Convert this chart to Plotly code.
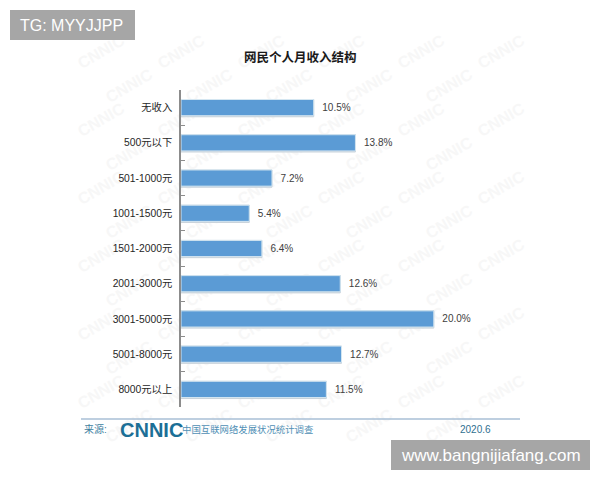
import plotly.graph_objects as go

categories = ["无收入", "500元以下", "501-1000元", "1001-1500元", "1501-2000元",
              "2001-3000元", "3001-5000元", "5001-8000元", "8000元以上"]
shares = [10.5, 13.8, 7.2, 5.4, 6.4, 12.6, 20.0, 12.7, 11.5]
labels = ["10.5%", "13.8%", "7.2%", "5.4%", "6.4%", "12.6%", "20.0%", "12.7%", "11.5%"]

W, H = 600, 480
CJK = "Liberation Sans, Noto Sans CJK SC, sans-serif"


def px(x):
    return x / W


def py(y):
    return 1 - y / H


def note(x, y, text, size, color, anchor="left", bold=False):
    fig.add_annotation(
        x=px(x), y=py(y), xref="paper", yref="paper", text=f"<b>{text}</b>" if bold else text,
        showarrow=False, xanchor=anchor, yanchor="middle",
        font=dict(family=CJK, size=size, color=color),
    )


fig = go.Figure()

# soft edge under each bar
fig.add_trace(go.Bar(
    y=categories, x=shares, orientation="h", width=0.49, offset=-0.23,
    marker=dict(color="#c8d2da", line=dict(color="#c8d2da", width=1)),
    hoverinfo="skip", showlegend=False,
))
fig.add_trace(go.Bar(
    y=categories, x=shares, orientation="h", width=0.46, offset=-0.23,
    marker=dict(color="#5b9bd5", line=dict(color="#d4e6f1", width=1)),
    text=labels, texttemplate="  %{text}", textposition="outside", cliponaxis=False,
    textfont=dict(family=CJK, size=10, color="#404040"),
    showlegend=False,
))

fig.update_layout(
    width=W, height=H, autosize=False,
    margin=dict(l=0, r=0, t=0, b=0),
    paper_bgcolor="white", plot_bgcolor="rgba(0,0,0,0)",
    barmode="overlay",
    xaxis=dict(domain=[px(181), px(497)], range=[0, 25], visible=False),
    yaxis=dict(
        domain=[py(407), py(90)], autorange="reversed",
        tickson="boundaries", ticks="inside", ticklen=4, tickcolor="#8c8c8c",
        showline=True, linecolor="#8c8c8c", linewidth=1.5, showgrid=False,
        ticklabelstandoff=5,
        tickfont=dict(family=CJK, size=10.3, color="#262626"),
    ),
)

# faint CNNIC watermark behind the chart
for row in range(12):
    for col in range(6):
        cx = 100 + col * 80 + (row % 2) * 28
        cy = 50 + row * 34
        if cx > 525:
            continue
        fig.add_shape(
            type="rect", xref="paper", yref="paper", layer="below",
            x0=px(cx - 25), x1=px(cx + 25), y0=py(cy + 15), y1=py(cy - 15),
            line=dict(width=0), fillcolor="rgba(0,0,0,0)",
            label=dict(text="<b>CNNIC</b>", textangle=-30, textposition="middle center",
                       font=dict(family="Liberation Sans", size=16, color="#f7f7f7")),
        )

# footer rule
fig.add_shape(type="line", xref="paper", yref="paper", x0=px(81), x1=px(520),
              y0=py(419), y1=py(419), line=dict(color="#a9bfd6", width=1.5))

# grey corner badges
fig.add_shape(type="rect", xref="paper", yref="paper", x0=px(10), x1=px(135),
              y0=py(40), y1=py(10), line=dict(width=0), fillcolor="#a6a6a6")
fig.add_shape(type="rect", xref="paper", yref="paper", x0=px(391), x1=px(590),
              y0=py(470), y1=py(440), line=dict(width=0), fillcolor="#a6a6a6")

note(300, 57, "网民个人月收入结构", 12.5, "#1a1a1a", anchor="center", bold=True)
note(18, 25, "TG: MYYJJPP", 16, "white")
note(399, 455, "www.bangnijiafang.com", 17, "white")
note(82, 429, "来源:", 10, "#3f7f9f")
note(118, 430, "<b>CNNIC</b>", 20, "#1c6f96")
note(180, 429, "中国互联网络发展状况统计调查", 9.4, "#4f8fb5")
note(458, 429, "2020.6", 10, "#2f6f8f")

fig.write_html("out.html", config=dict(displayModeBar=False),
               post_script="document.body.style.margin='0';")
